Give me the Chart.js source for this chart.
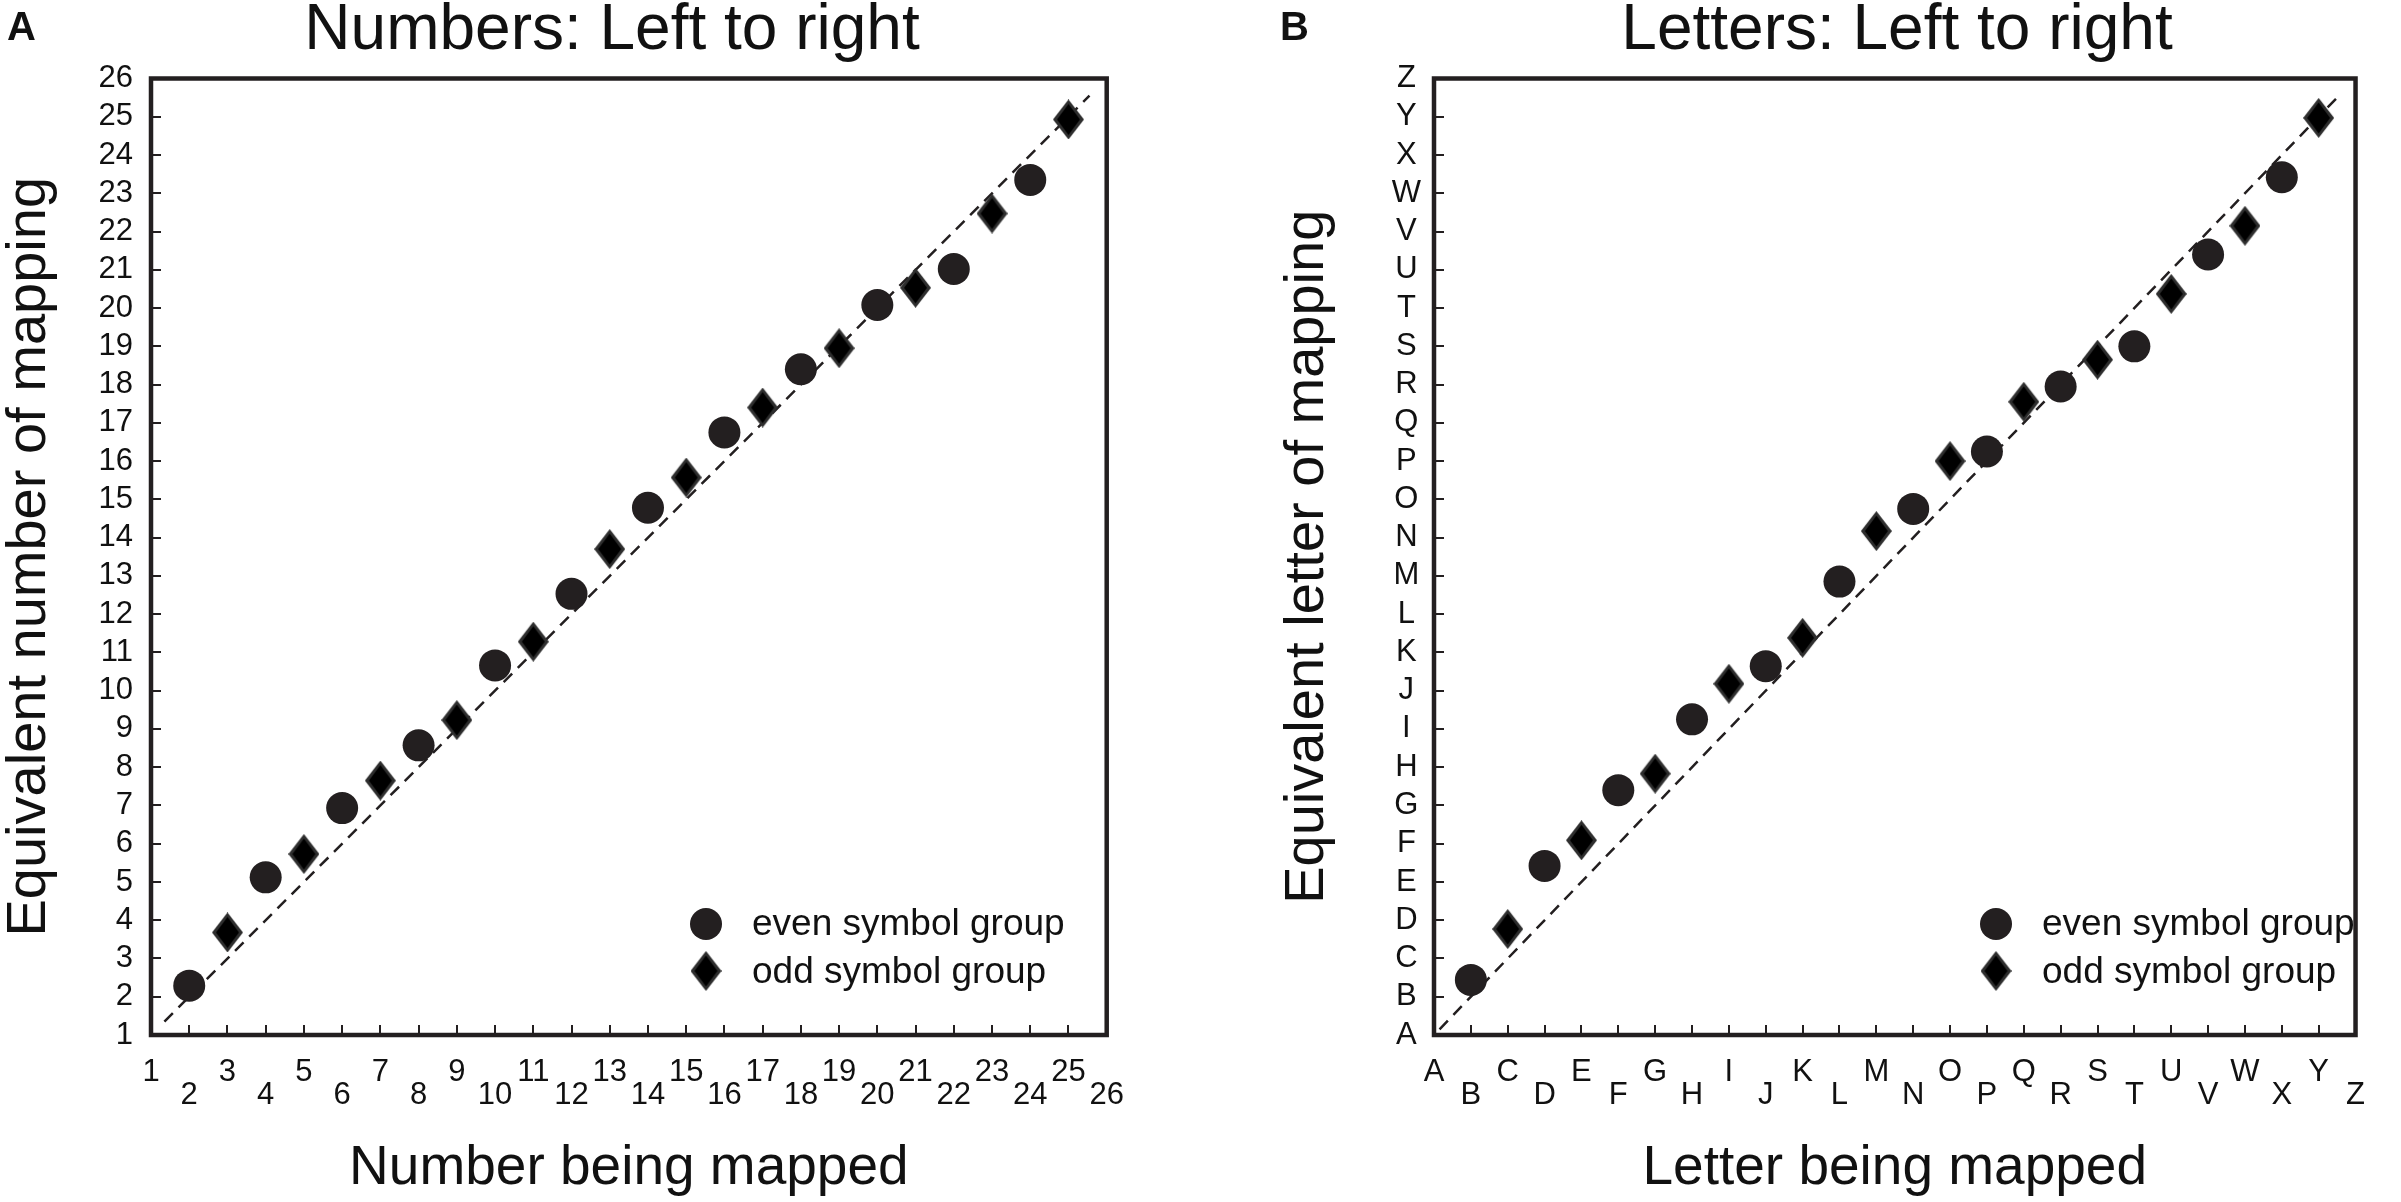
<!DOCTYPE html>
<html lang="en">
<head>
<meta charset="UTF-8">
<title>Numbers and letters: Left to right</title>
<script src="https://cdn.jsdelivr.net/npm/chart.js@4"></script>
<style>
  html, body { margin: 0; padding: 0; background: #fff; overflow: hidden; }
  #wrap { position: relative; width: 2401px; height: 1202px; }
  canvas { position: absolute; top: 0; }
  #numbers { left: 0; }
  #letters { left: 1200px; }
</style>
</head>
<body>
<div id="wrap">
  <canvas id="numbers" width="1200" height="1202"></canvas>
  <canvas id="letters" width="1201" height="1202"></canvas>
</div>
<script>
// tick labels (value 1..26 on both axes)
const numberTicks = ['1', '2', '3', '4', '5', '6', '7', '8', '9', '10', '11', '12', '13',
  '14', '15', '16', '17', '18', '19', '20', '21', '22', '23', '24', '25', '26'];
const letterTicks = ['A', 'B', 'C', 'D', 'E', 'F', 'G', 'H', 'I', 'J', 'K', 'L', 'M',
  'N', 'O', 'P', 'Q', 'R', 'S', 'T', 'U', 'V', 'W', 'X', 'Y', 'Z'];

// positions being mapped
const evenX = [2, 4, 6, 8, 10, 12, 14, 16, 18, 20, 22, 24];
const oddX = [3, 5, 7, 9, 11, 13, 15, 17, 19, 21, 23, 25];

// panel A: numbers
const numEvenY = [2.29, 5.12, 6.93, 8.57, 10.66, 12.53, 14.78, 16.75, 18.4, 20.08, 21.02, 23.35];
const numOddY = [3.68, 5.73, 7.65, 9.23, 11.28, 13.7, 15.57, 17.4, 18.95, 20.53, 22.47, 24.93];
const numDiag = [1.35, 25.55];

// panel B: letters
const letEvenY = [2.44, 5.42, 7.4, 9.25, 10.64, 12.85, 14.75, 16.25, 17.95, 19.0, 21.4, 23.42];
const letOddY = [3.77, 6.09, 7.83, 10.18, 11.38, 14.17, 16.0, 17.55, 18.65, 20.37, 22.15, 24.97];
const letDiag = [1.15, 25.6];

const ink = '#231f20';
const family = '"Liberation Sans", Arial, Helvetica, sans-serif';
Chart.defaults.font.family = family;
Chart.defaults.color = '#111';

// tall diamond marker, dark rim with black core
function makeDiamond() {
  const c = document.createElement('canvas');
  c.width = 31; c.height = 40;
  const g = c.getContext('2d');
  g.beginPath();
  g.moveTo(15.5, 0); g.lineTo(31, 20); g.lineTo(15.5, 40); g.lineTo(0, 20);
  g.closePath();
  g.fillStyle = '#2e2e2e';
  g.fill();
  g.beginPath();
  g.moveTo(15.5, 4.5); g.lineTo(27, 20); g.lineTo(15.5, 35.5); g.lineTo(4, 20);
  g.closePath();
  g.fillStyle = '#000';
  g.fill();
  return c;
}
const diamond = makeDiamond();

const frame = {
  id: 'frame',
  afterDatasetsDraw(chart) {
    const { ctx, chartArea: a } = chart;
    ctx.save();
    ctx.lineWidth = 4.5;
    ctx.strokeStyle = ink;
    ctx.strokeRect(a.left, a.top, a.right - a.left, a.bottom - a.top);
    ctx.restore();
  }
};

const panelText = {
  id: 'panelText',
  afterDraw(chart, args, o) {
    const ctx = chart.ctx;
    ctx.save();
    ctx.fillStyle = '#111';
    ctx.textBaseline = 'alphabetic';
    ctx.font = 'bold 40px ' + family;
    ctx.textAlign = 'left';
    ctx.fillText(o.letter, o.letterX, 40);
    ctx.font = '64px ' + family;
    ctx.textAlign = 'center';
    ctx.fillText(o.title, o.titleX, 49);
    ctx.restore();
  }
};

// legend drawn inside the plot area
const symbolKey = {
  id: 'symbolKey',
  afterDraw(chart, args, o) {
    const ctx = chart.ctx;
    const sets = chart.data.datasets;
    ctx.save();
    ctx.fillStyle = ink;
    ctx.beginPath();
    ctx.arc(o.x, o.y1, 16, 0, Math.PI * 2);
    ctx.fill();
    ctx.drawImage(diamond, o.x - 15.5, o.y2 - 20);
    ctx.fillStyle = '#111';
    ctx.font = '37px ' + family;
    ctx.textAlign = 'left';
    ctx.textBaseline = 'middle';
    ctx.fillText(sets[0].label, o.textX, o.y1 + 1);
    ctx.fillText(sets[1].label, o.textX, o.y2 + 2);
    ctx.restore();
  }
};

function pairs(xs, ys) {
  return xs.map((x, i) => ({ x: x, y: ys[i] }));
}

function makeChart(id, p) {
  const labels = p.ticks;
  return new Chart(document.getElementById(id), {
    type: 'scatter',
    data: {
      datasets: [{
        label: 'even symbol group',
        data: pairs(evenX, p.evenY),
        pointStyle: 'circle',
        pointRadius: 16,
        backgroundColor: ink,
        borderWidth: 0
      }, {
        label: 'odd symbol group',
        data: pairs(oddX, p.oddY),
        pointStyle: diamond,
        pointRadius: 16,
        borderWidth: 0
      }, {
        type: 'line',
        label: 'identity',
        data: pairs(p.diag, p.diag),
        borderColor: ink,
        borderWidth: 2.5,
        borderDash: [12, 8],
        pointRadius: 0,
        fill: false
      }]
    },
    options: {
      responsive: false,
      animation: false,
      layout: { padding: { top: 78.5, right: p.padRight, bottom: 0, left: 0 } },
      plugins: {
        legend: { display: false },
        tooltip: { enabled: false },
        panelText: { letter: p.letter, letterX: p.letterX, title: p.title, titleX: p.titleX },
        symbolKey: { x: p.keyX, y1: 924, y2: 971, textX: p.keyX + 46 }
      },
      scales: {
        x: {
          type: 'linear',
          min: 1,
          max: 26,
          afterFit: s => { s.height = 167; },
          ticks: {
            stepSize: 1,
            autoSkip: false,
            maxRotation: 0,
            padding: 36,
            color: '#111',
            font: { size: 31, lineHeight: '23px' },
            callback: v => (v % 2 ? [labels[v - 1]] : ['', labels[v - 1]])
          },
          grid: { drawOnChartArea: false, tickLength: -10, color: ink, lineWidth: 2 },
          border: { display: false },
          title: {
            display: true,
            text: p.xTitle,
            color: '#111',
            font: { size: 55, lineHeight: 1 },
            padding: { top: 0, bottom: 6 }
          }
        },
        y: {
          type: 'linear',
          min: 1,
          max: 26,
          afterFit: s => { s.width = p.yWidth; },
          ticks: {
            stepSize: 1,
            autoSkip: false,
            padding: p.yPad,
            crossAlign: p.yAlign,
            color: '#111',
            font: { size: 31, lineHeight: '23px' },
            callback: v => labels[v - 1]
          },
          grid: { drawOnChartArea: false, tickLength: -10, color: ink, lineWidth: 2 },
          border: { display: false },
          title: {
            display: true,
            text: p.yTitle,
            color: '#111',
            font: { size: 56, lineHeight: 1 },
            padding: { top: p.yTitlePad, bottom: 0 }
          }
        }
      }
    },
    plugins: [frame, panelText, symbolKey]
  });
}

makeChart('numbers', {
  ticks: numberTicks,
  evenY: numEvenY,
  oddY: numOddY,
  diag: numDiag,
  letter: 'A', letterX: 7,
  title: 'Numbers: Left to right', titleX: 612,
  xTitle: 'Number being mapped',
  yTitle: 'Equivalent number of mapping',
  yWidth: 151, yPad: 28, yAlign: 'near', yTitlePad: 2,
  padRight: 93.3,
  keyX: 706
});

makeChart('letters', {
  ticks: letterTicks,
  evenY: letEvenY,
  oddY: letOddY,
  diag: letDiag,
  letter: 'B', letterX: 80,
  title: 'Letters: Left to right', titleX: 697,
  xTitle: 'Letter being mapped',
  yTitle: 'Equivalent letter of mapping',
  yWidth: 234, yPad: 23, yAlign: 'center', yTitlePad: 80,
  padRight: 10.3,
  keyX: 796
});
</script>
</body>
</html>
